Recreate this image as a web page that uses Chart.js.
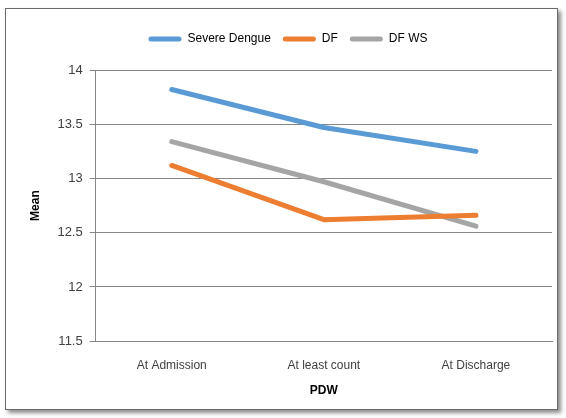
<!DOCTYPE html>
<html>
<head>
<meta charset="utf-8">
<script src="https://cdn.jsdelivr.net/npm/chart.js@4.4.1/dist/chart.umd.min.js"></script>
<style>
  html, body { margin: 0; padding: 0; background: #fff; }
  #frame {
    position: absolute; left: 5px; top: 8px; width: 551px; height: 400px;
    border: 1px solid #6a6a6a;
    box-shadow: 3px 3px 4px rgba(0,0,0,0.45);
    background: #fff;
  }
</style>
</head>
<body>
<div id="frame"><canvas id="chart" width="551" height="400"></canvas></div>
<script>
// categories and series
const categories = ['At Admission', 'At least count', 'At Discharge'];
const severeDengue = [13.82, 13.47, 13.25];
const df = [13.12, 12.62, 12.66];
const dfWs = [13.34, 12.97, 12.56];
const yTicks = [11.5, 12, 12.5, 13, 13.5, 14];

const fontFamily = "'Liberation Sans', 'DejaVu Sans', sans-serif";

function series(label, data, color) {
    return {
        label: label,
        data: data,
        borderColor: color,
        backgroundColor: color,
        borderWidth: 5,
        pointRadius: 0,
        pointHoverRadius: 0,
        tension: 0,
        borderCapStyle: 'round',
        borderJoinStyle: 'round'
    };
}

// extra room under the legend
const legendSpacer = {
    id: 'legendSpacer',
    beforeInit: function(chart) {
        const origFit = chart.legend.fit;
        chart.legend.fit = function() {
            origFit.bind(chart.legend)();
            this.height += 15;
        };
    }
};

const ctx = document.getElementById('chart').getContext('2d');
new Chart(ctx, {
    type: 'line',
    data: {
        labels: categories,
        datasets: [
            series('Severe Dengue', severeDengue, '#5B9BD5'),
            series('DF', df, '#ED7D31'),
            series('DF WS', dfWs, '#A5A5A5')
        ]
    },
    plugins: [legendSpacer],
    options: {
        responsive: false,
        animation: false,
        events: [],
        layout: { padding: { left: 18, right: 5, top: 12, bottom: 7 } },
        plugins: {
            legend: {
                position: 'top',
                labels: {
                    boxWidth: 33,
                    boxHeight: 5,
                    useBorderRadius: true,
                    borderRadius: 2.5,
                    padding: 12,
                    color: '#000',
                    font: { family: fontFamily, size: 12 },
                    generateLabels: function(chart) {
                        const items = Chart.defaults.plugins.legend.labels.generateLabels(chart);
                        items.forEach(function(it) { it.lineWidth = 0; });
                        return items;
                    }
                }
            },
            tooltip: { enabled: false }
        },
        scales: {
            x: {
                offset: true,
                grid: { display: false },
                border: { display: true, color: '#878787', width: 1 },
                ticks: { color: '#404040', font: { family: fontFamily, size: 12 }, padding: 9 },
                title: { display: true, text: 'PDW', color: '#000', font: { family: fontFamily, size: 12, weight: 'bold' }, padding: { top: 2 } }
            },
            y: {
                min: 11.5,
                max: 14,
                afterBuildTicks: function(axis) {
                    axis.ticks = yTicks.map(function(v) { return { value: v }; });
                },
                grid: { color: '#878787', lineWidth: 1, tickLength: 6, drawTicks: true },
                border: { display: true, color: '#878787', width: 1 },
                ticks: {
                    color: '#404040',
                    font: { family: fontFamily, size: 13 },
                    padding: 7,
                    callback: function(value) { return String(value); }
                },
                title: { display: true, text: 'Mean', color: '#000', font: { family: fontFamily, size: 12, weight: 'bold' }, padding: { bottom: 8 } }
            }
        }
    }
});
</script>
</body>
</html>
